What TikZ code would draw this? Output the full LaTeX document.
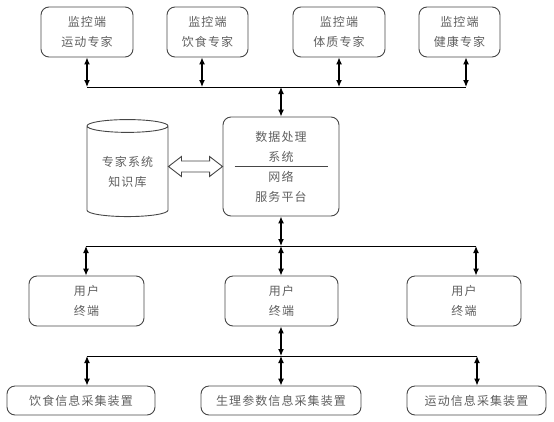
\documentclass[tikz,border=0pt]{standalone}
\usepackage{fontspec}
\newfontfamily\cjk[LetterSpace=9]{Noto Sans CJK SC}
\usetikzlibrary{arrows.meta, positioning, shapes.geometric, calc}
\definecolor{textgray}{RGB}{95,95,95}
\definecolor{boxline}{RGB}{70,70,70}
\tikzset{
  unit/.style={rectangle, rounded corners=8pt,
    draw=boxline, line width=0.9pt, inner sep=0pt,
    align=center, text=textgray,
    font=\cjk\fontsize{12}{20}\selectfont},
  store/.style={cylinder, shape border rotate=90, aspect=0.25,
    draw=boxline, line width=0.9pt, inner sep=0pt,
    align=center, text=textgray,
    font=\cjk\fontsize{12}{20}\selectfont},
  link/.style={{Latex[length=7pt,width=6pt]}-{Latex[length=7pt,width=6pt]},
    line width=1.2pt},
  bus/.style={line width=0.9pt},
  hollow/.style={draw=boxline, line width=0.9pt, fill=white, line join=miter},
}
\begin{document}
\begin{tikzpicture}[x=1pt, y=-1pt]
\useasboundingbox (0,0) rectangle (554,421);

% monitor side
\foreach \name/\x/\w/\txt in {
    m1/87/92/运动专家,
    m2/207.5/81/饮食专家,
    m3/339/92/体质专家,
    m4/459.5/81/健康专家
  }{
  \node[unit, minimum width=\w pt, minimum height=50pt] (\name) at (\x,32) {监控端\\\txt};
}

% data processing and knowledge base
\node[unit, minimum width=116pt, minimum height=99pt] (dp) at (281,166.5)
  {数据处理\\系统\\网络\\服务平台};
\draw[boxline, line width=0.9pt] ([xshift=12pt]dp.west) -- ([xshift=-11pt]dp.east);
\node[store, minimum width=81pt, minimum height=97pt] (kb) at (127.5,171.5)
  {专家系统\\知识库};
\coordinate (ka) at (kb.east |- dp.west);
\draw[hollow] (ka) -- ++(13,-10) -- ++(0,4.5) -- ($(dp.west)+(-13,-5.5)$)
  -- ++(0,-4.5) -- (dp.west) -- ++(-13,10) -- ++(0,-4.5)
  -- ($(ka)+(13,5.5)$) -- ++(0,4.5) -- cycle;

% user terminals
\node[unit, minimum width=115pt, minimum height=50pt] (u1) at (86.5,301) {用户\\终端};
\node[unit, minimum width=113pt, minimum height=50pt] (u2) at (281.5,301) {用户\\终端};
\node[unit, minimum width=114pt, minimum height=50pt] (u3) at (464,301) {用户\\终端};

% collecting devices
\node[unit, minimum width=148pt, minimum height=29pt] (d1) at (81,400.5) {饮食信息采集装置};
\node[unit, minimum width=160pt, minimum height=29pt] (d2) at (281,400.5) {生理参数信息采集装置};
\node[unit, minimum width=139pt, minimum height=29pt] (d3) at (476.5,400.5) {运动信息采集装置};

% bus lines
\coordinate (t1) at (87,87);
\coordinate (t2) at (202,87);
\coordinate (t3) at (339,87);
\coordinate (t4) at (466,87);
\coordinate (tc) at (281,87);
\coordinate (ua) at (86,246);
\coordinate (uc) at (281,246);
\coordinate (ub) at (476,246);
\coordinate (da) at (87,356);
\coordinate (dc) at (281,356);
\coordinate (db) at (477,356);
\draw[bus] (t1) -- (t4);
\draw[bus] (ua) -- (ub);
\draw[bus] (da) -- (db);

% links
\draw[link] (m1.south) -- (t1);
\draw[link] (m2.south -| t2) -- (t2);
\draw[link] (m3.south) -- (t3);
\draw[link] (m4.south -| t4) -- (t4);
\draw[link] (tc) -- (dp.north);
\draw[link] (dp.south) -- (uc);
\draw[link] (ua) -- (u1.north -| ua);
\draw[link] (uc) -- (u2.north -| uc);
\draw[link] (ub) -- (u3.north -| ub);
\draw[link] (u2.south -| dc) -- (dc);
\draw[link] (da) -- (d1.north -| da);
\draw[link] (dc) -- (d2.north);
\draw[link] (db) -- (d3.north -| db);
\end{tikzpicture}
\end{document}
